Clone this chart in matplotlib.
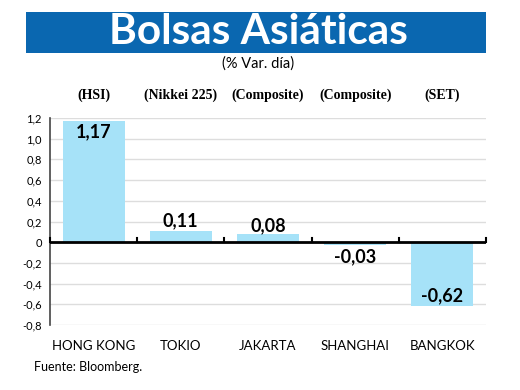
import matplotlib
matplotlib.use("Agg")
import matplotlib.pyplot as plt
from matplotlib.patches import Rectangle

categories = ["HONG KONG", "TOKIO", "JAKARTA", "SHANGHAI", "BANGKOK"]
indices = ["(HSI)", "(Nikkei 225)", "(Composite)", "(Composite)", "(SET)"]
values = [1.17, 0.11, 0.08, -0.03, -0.62]
value_labels = ["1,17", "0,11", "0,08", "-0,03", "-0,62"]
yticks = [-0.8, -0.6, -0.4, -0.2, 0, 0.2, 0.4, 0.6, 0.8, 1.0, 1.2]
ytick_labels = ["-0,8", "-0,6", "-0,4", "-0,2", "0", "0,2", "0,4", "0,6", "0,8", "1,0", "1,2"]

plt.rcParams['font.family'] = ['Lato', 'DejaVu Sans']

fig = plt.figure(figsize=(5.2, 3.9), dpi=100)
fig.patch.set_facecolor("white")

# Title bar
fig.add_artist(Rectangle((26/520, 1-53/390), 460/520, 41/390, transform=fig.transFigure,
                         facecolor="#0a67b0", edgecolor="none"))
fig.text(258/520, 1-32/390, "Bolsas Asiáticas", ha="center", va="center", color="white",
         fontsize=30.5, fontweight="bold")
fig.text(258/520, 1-64/390, "(% Var. día)", ha="center", va="center", fontsize=10.5)

ax = fig.add_axes([50/520, 1-325/390, 436/520, 207/390])
x = list(range(len(categories)))
ax.bar(x, values, width=0.71, color="#a6e2f8", zorder=2)
ax.set_xlim(-0.5, len(categories) - 0.5)
ax.set_ylim(-0.8, 1.2)
ax.set_yticks(yticks)
ax.set_yticklabels(ytick_labels, fontsize=8)
ax.tick_params(axis="y", length=0, pad=6)
ax.set_xticks([])
ax.grid(axis="y", color="#dddddd", linewidth=1, zorder=0)
for s in ["top", "right", "bottom"]:
    ax.spines[s].set_visible(False)
ax.spines["left"].set_color("#444444")
ax.spines["left"].set_linewidth(1.2)
ax.axhline(0, color="black", linewidth=2, zorder=3)
for b in [i - 0.5 for i in range(len(categories) + 1)]:
    ax.plot([b, b], [0, 0.04], color="black", linewidth=1.5, zorder=3, clip_on=False)

offsets = [-0.1, 0.1, 0.075, -0.115, 0.105]
for i, (v, lab, o) in enumerate(zip(values, value_labels, offsets)):
    ax.text(i, v + o, lab, ha="center", va="center", fontsize=13, fontweight="bold", zorder=4)

for i, (c, idx) in enumerate(zip(categories, indices)):
    ax.text(i, -1.04, c, ha="center", va="baseline", fontsize=9.5)
    ax.text(i, 1.42, idx, ha="center", va="center", fontsize=10, fontweight="bold",
            family=["Liberation Serif"], clip_on=False)

fig.text(34/520, 1-367/390, "Fuente: Bloomberg.", ha="left", va="center", fontsize=9)

fig.savefig("out.png", dpi=100)
